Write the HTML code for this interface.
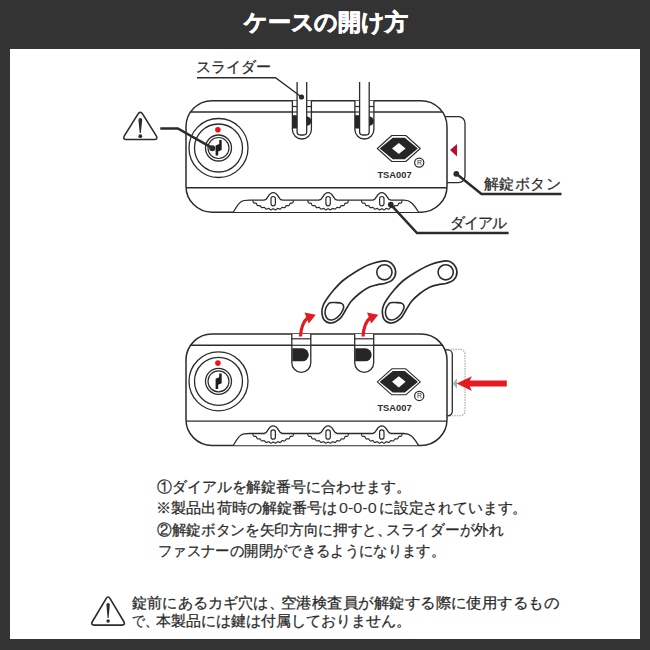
<!DOCTYPE html>
<html><head><meta charset="utf-8"><style>
html,body{margin:0;padding:0;}
body{width:650px;height:650px;background:#333333;position:relative;overflow:hidden;font-family:"Liberation Sans",sans-serif;}
svg{position:absolute;left:0;top:0;}
.t{position:absolute;white-space:nowrap;color:#2a2a2a;line-height:1;-webkit-text-stroke:0.25px #2a2a2a;}
</style></head><body>
<svg width="650" height="650" viewBox="0 0 650 650">
<rect x="10" y="49" width="630" height="590" fill="#fff"/><rect x="186" y="100.7" width="261" height="111.49999999999999" rx="26" fill="#fff" stroke="#2b2b2b" stroke-width="1.5"/><line x1="190.6" y1="112" x2="442.4" y2="112" stroke="#2b2b2b" stroke-width="1.4"/><line x1="186" y1="187.8" x2="447" y2="187.8" stroke="#2b2b2b" stroke-width="1.4"/><path d="M233.4,212 C240,200 242,200.2 250,200.2 L404,200.2 C410,200.2 413,203 418.5,212" fill="#fff" stroke="#2b2b2b" stroke-width="1.3"/><path d="M264.2,200.2 C268.2,200 267.7,192.6 273.2,192.6 C278.7,192.6 278.2,200 282.2,200.2 L282.2,201.5 L264.2,201.5 Z" fill="#fff" stroke="none"/><path d="M264.2,200.2 C268.2,200 267.7,192.6 273.2,192.6 C278.7,192.6 278.2,200 282.2,200.2" fill="none" stroke="#2b2b2b" stroke-width="1.3"/><path d="M252.70,200.40 L252.84,200.58 L252.95,200.79 L253.04,201.04 L253.10,201.31 L253.15,201.59 L253.21,201.87 L253.29,202.14 L253.38,202.39 L253.51,202.60 L253.67,202.77 L253.87,202.90 L254.10,202.99 L254.36,203.04 L254.64,203.07 L254.92,203.08 L255.21,203.09 L255.49,203.10 L255.74,203.14 L255.97,203.21 L256.17,203.32 L256.34,203.48 L256.48,203.67 L256.60,203.90 L256.71,204.16 L256.81,204.43 L256.91,204.70 L257.02,204.95 L257.15,205.18 L257.31,205.37 L257.50,205.52 L257.71,205.62 L257.96,205.67 L258.22,205.68 L258.50,205.66 L258.79,205.63 L259.07,205.59 L259.34,205.56 L259.60,205.56 L259.84,205.60 L260.06,205.68 L260.25,205.80 L260.42,205.97 L260.57,206.18 L260.71,206.42 L260.85,206.67 L260.99,206.92 L261.15,207.15 L261.31,207.36 L261.50,207.52 L261.71,207.64 L261.93,207.70 L262.18,207.71 L262.44,207.69 L262.72,207.62 L262.99,207.55 L263.27,207.46 L263.54,207.40 L263.79,207.35 L264.03,207.35 L264.26,207.40 L264.47,207.49 L264.66,207.63 L264.84,207.82 L265.02,208.03 L265.20,208.25 L265.38,208.48 L265.56,208.69 L265.76,208.86 L265.97,209.00 L266.19,209.08 L266.43,209.11 L266.67,209.08 L266.93,209.01 L267.19,208.91 L267.45,208.79 L267.71,208.67 L267.96,208.56 L268.21,208.48 L268.45,208.44 L268.67,208.45 L268.89,208.51 L269.11,208.62 L269.32,208.77 L269.53,208.95 L269.74,209.15 L269.95,209.34 L270.16,209.52 L270.38,209.66 L270.61,209.76 L270.84,209.81 L271.08,209.80 L271.32,209.74 L271.56,209.63 L271.80,209.49 L272.04,209.33 L272.28,209.17 L272.51,209.02 L272.74,208.90 L272.97,208.83 L273.20,208.80 L273.43,208.83 L273.66,208.90 L273.89,209.02 L274.12,209.17 L274.36,209.33 L274.60,209.49 L274.84,209.63 L275.08,209.74 L275.32,209.80 L275.56,209.81 L275.79,209.76 L276.02,209.66 L276.24,209.52 L276.45,209.34 L276.66,209.15 L276.87,208.95 L277.08,208.77 L277.29,208.62 L277.51,208.51 L277.73,208.45 L277.95,208.44 L278.19,208.48 L278.44,208.56 L278.69,208.67 L278.95,208.79 L279.21,208.91 L279.47,209.01 L279.73,209.08 L279.97,209.11 L280.21,209.08 L280.43,209.00 L280.64,208.86 L280.84,208.69 L281.02,208.48 L281.20,208.25 L281.38,208.03 L281.56,207.82 L281.74,207.63 L281.93,207.49 L282.14,207.40 L282.37,207.35 L282.61,207.35 L282.86,207.40 L283.13,207.46 L283.41,207.55 L283.68,207.62 L283.96,207.69 L284.22,207.71 L284.47,207.70 L284.69,207.64 L284.90,207.52 L285.09,207.36 L285.25,207.15 L285.41,206.92 L285.55,206.67 L285.69,206.42 L285.83,206.18 L285.98,205.97 L286.15,205.80 L286.34,205.68 L286.56,205.60 L286.80,205.56 L287.06,205.56 L287.33,205.59 L287.61,205.63 L287.90,205.66 L288.18,205.68 L288.44,205.67 L288.69,205.62 L288.90,205.52 L289.09,205.37 L289.25,205.18 L289.38,204.95 L289.49,204.70 L289.59,204.43 L289.69,204.16 L289.80,203.90 L289.92,203.67 L290.06,203.48 L290.23,203.32 L290.43,203.21 L290.66,203.14 L290.91,203.10 L291.19,203.09 L291.48,203.08 L291.76,203.07 L292.04,203.04 L292.30,202.99 L292.53,202.90 L292.73,202.77 L292.89,202.60 L293.02,202.39 L293.11,202.14 L293.19,201.87 L293.25,201.59 L293.30,201.31 L293.36,201.04 L293.45,200.79 L293.56,200.58 L293.70,200.40" fill="none" stroke="#2b2b2b" stroke-width="1.2"/><rect x="271.0" y="196.5" width="4.4" height="9.3" rx="2.2" fill="none" stroke="#2b2b2b" stroke-width="1.2"/><path d="M319.1,200.2 C323.1,200 322.6,192.6 328.1,192.6 C333.6,192.6 333.1,200 337.1,200.2 L337.1,201.5 L319.1,201.5 Z" fill="#fff" stroke="none"/><path d="M319.1,200.2 C323.1,200 322.6,192.6 328.1,192.6 C333.6,192.6 333.1,200 337.1,200.2" fill="none" stroke="#2b2b2b" stroke-width="1.3"/><path d="M307.60,200.40 L307.74,200.58 L307.85,200.79 L307.94,201.04 L308.00,201.31 L308.05,201.59 L308.11,201.87 L308.19,202.14 L308.28,202.39 L308.41,202.60 L308.57,202.77 L308.77,202.90 L309.00,202.99 L309.26,203.04 L309.54,203.07 L309.82,203.08 L310.11,203.09 L310.39,203.10 L310.64,203.14 L310.87,203.21 L311.07,203.32 L311.24,203.48 L311.38,203.67 L311.50,203.90 L311.61,204.16 L311.71,204.43 L311.81,204.70 L311.92,204.95 L312.05,205.18 L312.21,205.37 L312.40,205.52 L312.61,205.62 L312.86,205.67 L313.12,205.68 L313.40,205.66 L313.69,205.63 L313.97,205.59 L314.24,205.56 L314.50,205.56 L314.74,205.60 L314.96,205.68 L315.15,205.80 L315.32,205.97 L315.47,206.18 L315.61,206.42 L315.75,206.67 L315.89,206.92 L316.05,207.15 L316.21,207.36 L316.40,207.52 L316.61,207.64 L316.83,207.70 L317.08,207.71 L317.34,207.69 L317.62,207.62 L317.89,207.55 L318.17,207.46 L318.44,207.40 L318.69,207.35 L318.93,207.35 L319.16,207.40 L319.37,207.49 L319.56,207.63 L319.74,207.82 L319.92,208.03 L320.10,208.25 L320.28,208.48 L320.46,208.69 L320.66,208.86 L320.87,209.00 L321.09,209.08 L321.33,209.11 L321.57,209.08 L321.83,209.01 L322.09,208.91 L322.35,208.79 L322.61,208.67 L322.86,208.56 L323.11,208.48 L323.35,208.44 L323.57,208.45 L323.79,208.51 L324.01,208.62 L324.22,208.77 L324.43,208.95 L324.64,209.15 L324.85,209.34 L325.06,209.52 L325.28,209.66 L325.51,209.76 L325.74,209.81 L325.98,209.80 L326.22,209.74 L326.46,209.63 L326.70,209.49 L326.94,209.33 L327.18,209.17 L327.41,209.02 L327.64,208.90 L327.87,208.83 L328.10,208.80 L328.33,208.83 L328.56,208.90 L328.79,209.02 L329.02,209.17 L329.26,209.33 L329.50,209.49 L329.74,209.63 L329.98,209.74 L330.22,209.80 L330.46,209.81 L330.69,209.76 L330.92,209.66 L331.14,209.52 L331.35,209.34 L331.56,209.15 L331.77,208.95 L331.98,208.77 L332.19,208.62 L332.41,208.51 L332.63,208.45 L332.85,208.44 L333.09,208.48 L333.34,208.56 L333.59,208.67 L333.85,208.79 L334.11,208.91 L334.37,209.01 L334.63,209.08 L334.87,209.11 L335.11,209.08 L335.33,209.00 L335.54,208.86 L335.74,208.69 L335.92,208.48 L336.10,208.25 L336.28,208.03 L336.46,207.82 L336.64,207.63 L336.83,207.49 L337.04,207.40 L337.27,207.35 L337.51,207.35 L337.76,207.40 L338.03,207.46 L338.31,207.55 L338.58,207.62 L338.86,207.69 L339.12,207.71 L339.37,207.70 L339.59,207.64 L339.80,207.52 L339.99,207.36 L340.15,207.15 L340.31,206.92 L340.45,206.67 L340.59,206.42 L340.73,206.18 L340.88,205.97 L341.05,205.80 L341.24,205.68 L341.46,205.60 L341.70,205.56 L341.96,205.56 L342.23,205.59 L342.51,205.63 L342.80,205.66 L343.08,205.68 L343.34,205.67 L343.59,205.62 L343.80,205.52 L343.99,205.37 L344.15,205.18 L344.28,204.95 L344.39,204.70 L344.49,204.43 L344.59,204.16 L344.70,203.90 L344.82,203.67 L344.96,203.48 L345.13,203.32 L345.33,203.21 L345.56,203.14 L345.81,203.10 L346.09,203.09 L346.38,203.08 L346.66,203.07 L346.94,203.04 L347.20,202.99 L347.43,202.90 L347.63,202.77 L347.79,202.60 L347.92,202.39 L348.01,202.14 L348.09,201.87 L348.15,201.59 L348.20,201.31 L348.26,201.04 L348.35,200.79 L348.46,200.58 L348.60,200.40" fill="none" stroke="#2b2b2b" stroke-width="1.2"/><rect x="325.90000000000003" y="196.5" width="4.4" height="9.3" rx="2.2" fill="none" stroke="#2b2b2b" stroke-width="1.2"/><path d="M372.8,200.2 C376.8,200 376.3,192.6 381.8,192.6 C387.3,192.6 386.8,200 390.8,200.2 L390.8,201.5 L372.8,201.5 Z" fill="#fff" stroke="none"/><path d="M372.8,200.2 C376.8,200 376.3,192.6 381.8,192.6 C387.3,192.6 386.8,200 390.8,200.2" fill="none" stroke="#2b2b2b" stroke-width="1.3"/><path d="M361.30,200.40 L361.44,200.58 L361.55,200.79 L361.64,201.04 L361.70,201.31 L361.75,201.59 L361.81,201.87 L361.89,202.14 L361.98,202.39 L362.11,202.60 L362.27,202.77 L362.47,202.90 L362.70,202.99 L362.96,203.04 L363.24,203.07 L363.52,203.08 L363.81,203.09 L364.09,203.10 L364.34,203.14 L364.57,203.21 L364.77,203.32 L364.94,203.48 L365.08,203.67 L365.20,203.90 L365.31,204.16 L365.41,204.43 L365.51,204.70 L365.62,204.95 L365.75,205.18 L365.91,205.37 L366.10,205.52 L366.31,205.62 L366.56,205.67 L366.82,205.68 L367.10,205.66 L367.39,205.63 L367.67,205.59 L367.94,205.56 L368.20,205.56 L368.44,205.60 L368.66,205.68 L368.85,205.80 L369.02,205.97 L369.17,206.18 L369.31,206.42 L369.45,206.67 L369.59,206.92 L369.75,207.15 L369.91,207.36 L370.10,207.52 L370.31,207.64 L370.53,207.70 L370.78,207.71 L371.04,207.69 L371.32,207.62 L371.59,207.55 L371.87,207.46 L372.14,207.40 L372.39,207.35 L372.63,207.35 L372.86,207.40 L373.07,207.49 L373.26,207.63 L373.44,207.82 L373.62,208.03 L373.80,208.25 L373.98,208.48 L374.16,208.69 L374.36,208.86 L374.57,209.00 L374.79,209.08 L375.03,209.11 L375.27,209.08 L375.53,209.01 L375.79,208.91 L376.05,208.79 L376.31,208.67 L376.56,208.56 L376.81,208.48 L377.05,208.44 L377.27,208.45 L377.49,208.51 L377.71,208.62 L377.92,208.77 L378.13,208.95 L378.34,209.15 L378.55,209.34 L378.76,209.52 L378.98,209.66 L379.21,209.76 L379.44,209.81 L379.68,209.80 L379.92,209.74 L380.16,209.63 L380.40,209.49 L380.64,209.33 L380.88,209.17 L381.11,209.02 L381.34,208.90 L381.57,208.83 L381.80,208.80 L382.03,208.83 L382.26,208.90 L382.49,209.02 L382.72,209.17 L382.96,209.33 L383.20,209.49 L383.44,209.63 L383.68,209.74 L383.92,209.80 L384.16,209.81 L384.39,209.76 L384.62,209.66 L384.84,209.52 L385.05,209.34 L385.26,209.15 L385.47,208.95 L385.68,208.77 L385.89,208.62 L386.11,208.51 L386.33,208.45 L386.55,208.44 L386.79,208.48 L387.04,208.56 L387.29,208.67 L387.55,208.79 L387.81,208.91 L388.07,209.01 L388.33,209.08 L388.57,209.11 L388.81,209.08 L389.03,209.00 L389.24,208.86 L389.44,208.69 L389.62,208.48 L389.80,208.25 L389.98,208.03 L390.16,207.82 L390.34,207.63 L390.53,207.49 L390.74,207.40 L390.97,207.35 L391.21,207.35 L391.46,207.40 L391.73,207.46 L392.01,207.55 L392.28,207.62 L392.56,207.69 L392.82,207.71 L393.07,207.70 L393.29,207.64 L393.50,207.52 L393.69,207.36 L393.85,207.15 L394.01,206.92 L394.15,206.67 L394.29,206.42 L394.43,206.18 L394.58,205.97 L394.75,205.80 L394.94,205.68 L395.16,205.60 L395.40,205.56 L395.66,205.56 L395.93,205.59 L396.21,205.63 L396.50,205.66 L396.78,205.68 L397.04,205.67 L397.29,205.62 L397.50,205.52 L397.69,205.37 L397.85,205.18 L397.98,204.95 L398.09,204.70 L398.19,204.43 L398.29,204.16 L398.40,203.90 L398.52,203.67 L398.66,203.48 L398.83,203.32 L399.03,203.21 L399.26,203.14 L399.51,203.10 L399.79,203.09 L400.08,203.08 L400.36,203.07 L400.64,203.04 L400.90,202.99 L401.13,202.90 L401.33,202.77 L401.49,202.60 L401.62,202.39 L401.71,202.14 L401.79,201.87 L401.85,201.59 L401.90,201.31 L401.96,201.04 L402.05,200.79 L402.16,200.58 L402.30,200.40" fill="none" stroke="#2b2b2b" stroke-width="1.2"/><rect x="379.6" y="196.5" width="4.4" height="9.3" rx="2.2" fill="none" stroke="#2b2b2b" stroke-width="1.2"/><circle cx="218.5" cy="148" r="29.5" fill="#fff" stroke="#2b2b2b" stroke-width="1.3"/><circle cx="218.5" cy="148" r="24" fill="#fff" stroke="#2b2b2b" stroke-width="1.3"/><circle cx="218.5" cy="148" r="13" fill="#fff" stroke="#2b2b2b" stroke-width="1.3"/><circle cx="218.5" cy="148" r="10.5" fill="#fff" stroke="#2b2b2b" stroke-width="1.2"/><circle cx="217.9" cy="129.8" r="2.8" fill="#e8141c"/><path d="M219.2,140.1 L221.7,140.1 L221.7,150 L218.2,151.5 L218.2,155.6 L215.6,155.6 L215.6,145.4 L219.2,144 Z" fill="#1e1e1e"/><path d="M377.3,148.5 L391.8,135.5 L405.8,135.5 L420.3,148.5 L405.8,161.5 L391.8,161.5 Z" fill="#fff" stroke="#2b2b2b" stroke-width="1.1" stroke-linejoin="round"/><path d="M380.8,148.5 L393.0,138.6 L404.6,138.6 L416.8,148.5 L404.6,158.4 L393.0,158.4 Z" fill="#262626" stroke="#262626" stroke-width="1.6" stroke-linejoin="round"/><path d="M392.0,148.5 L398.8,142.9 L405.6,148.5 L398.8,154.1 Z" fill="#fff"/><circle cx="419.2" cy="162.6" r="4.6" fill="#fff" stroke="#2b2b2b" stroke-width="1.25"/><text x="419.40000000000003" y="165.1" font-size="6.8" text-anchor="middle" fill="#2b2b2b" font-family="Liberation Sans, sans-serif">R</text><text x="377.40000000000003" y="177.9" font-size="9.6" font-weight="bold" fill="#2e2e2e" font-family="Liberation Sans, sans-serif" textLength="34.2" lengthAdjust="spacingAndGlyphs">TSA007</text><path d="M292.4,100.7 L292.4,129.5 A9.5,9.5 0 0 0 311.4,129.5 L311.4,100.7" fill="#fff" stroke="#2b2b2b" stroke-width="1.3"/><line x1="292.4" y1="106.5" x2="311.4" y2="106.5" stroke="#2b2b2b" stroke-width="1.2"/><line x1="292.4" y1="112" x2="311.4" y2="112" stroke="#2b2b2b" stroke-width="1.2"/><rect x="292.4" y="115.2" width="4.7" height="13.3" fill="#262626"/><path d="M306.5,116.4 A4.8,4.8 0 0 1 306.5,126 Z" fill="#262626"/><path d="M297.09999999999997,82 L297.09999999999997,131.8 A3.2,3.2 0 0 0 300.29999999999995,135 L303.5,135 A3.2,3.2 0 0 0 306.7,131.8 L306.7,82" fill="#fff" stroke="#2b2b2b" stroke-width="1.3"/><path d="M354.9,100.7 L354.9,129.5 A9.5,9.5 0 0 0 373.9,129.5 L373.9,100.7" fill="#fff" stroke="#2b2b2b" stroke-width="1.3"/><line x1="354.9" y1="106.5" x2="373.9" y2="106.5" stroke="#2b2b2b" stroke-width="1.2"/><line x1="354.9" y1="112" x2="373.9" y2="112" stroke="#2b2b2b" stroke-width="1.2"/><rect x="354.9" y="115.2" width="4.7" height="13.3" fill="#262626"/><path d="M369.0,116.4 A4.8,4.8 0 0 1 369.0,126 Z" fill="#262626"/><path d="M359.59999999999997,82 L359.59999999999997,131.8 A3.2,3.2 0 0 0 362.79999999999995,135 L366.0,135 A3.2,3.2 0 0 0 369.2,131.8 L369.2,82" fill="#fff" stroke="#2b2b2b" stroke-width="1.3"/><path d="M444.9,116.6 L458.5,116.6 A6.5,6.5 0 0 1 465,123.1 L465,176.2 A6.5,6.5 0 0 1 458.5,182.7 L447,182.7" fill="none" stroke="#2b2b2b" stroke-width="1.3"/><path d="M450,150 L457,144 L457,156.5 Z" fill="#b3122b"/><rect x="186" y="334.0" width="261" height="111.5" rx="26" fill="#fff" stroke="#2b2b2b" stroke-width="1.5"/><line x1="190.6" y1="345.3" x2="442.4" y2="345.3" stroke="#2b2b2b" stroke-width="1.4"/><line x1="186" y1="421.1" x2="447" y2="421.1" stroke="#2b2b2b" stroke-width="1.4"/><path d="M233.4,445.3 C240,433.3 242,433.5 250,433.5 L404,433.5 C410,433.5 413,436.3 418.5,445.3" fill="#fff" stroke="#2b2b2b" stroke-width="1.3"/><path d="M264.2,433.5 C268.2,433.3 267.7,425.9 273.2,425.9 C278.7,425.9 278.2,433.3 282.2,433.5 L282.2,434.8 L264.2,434.8 Z" fill="#fff" stroke="none"/><path d="M264.2,433.5 C268.2,433.3 267.7,425.9 273.2,425.9 C278.7,425.9 278.2,433.3 282.2,433.5" fill="none" stroke="#2b2b2b" stroke-width="1.3"/><path d="M252.70,433.70 L252.84,433.88 L252.95,434.09 L253.04,434.34 L253.10,434.61 L253.15,434.89 L253.21,435.17 L253.29,435.44 L253.38,435.69 L253.51,435.90 L253.67,436.07 L253.87,436.20 L254.10,436.29 L254.36,436.34 L254.64,436.37 L254.92,436.38 L255.21,436.39 L255.49,436.40 L255.74,436.44 L255.97,436.51 L256.17,436.62 L256.34,436.78 L256.48,436.97 L256.60,437.20 L256.71,437.46 L256.81,437.73 L256.91,438.00 L257.02,438.25 L257.15,438.48 L257.31,438.67 L257.50,438.82 L257.71,438.92 L257.96,438.97 L258.22,438.98 L258.50,438.96 L258.79,438.93 L259.07,438.89 L259.34,438.86 L259.60,438.86 L259.84,438.90 L260.06,438.98 L260.25,439.10 L260.42,439.27 L260.57,439.48 L260.71,439.72 L260.85,439.97 L260.99,440.22 L261.15,440.45 L261.31,440.66 L261.50,440.82 L261.71,440.94 L261.93,441.00 L262.18,441.01 L262.44,440.99 L262.72,440.92 L262.99,440.85 L263.27,440.76 L263.54,440.70 L263.79,440.65 L264.03,440.65 L264.26,440.70 L264.47,440.79 L264.66,440.93 L264.84,441.12 L265.02,441.33 L265.20,441.55 L265.38,441.78 L265.56,441.99 L265.76,442.16 L265.97,442.30 L266.19,442.38 L266.43,442.41 L266.67,442.38 L266.93,442.31 L267.19,442.21 L267.45,442.09 L267.71,441.97 L267.96,441.86 L268.21,441.78 L268.45,441.74 L268.67,441.75 L268.89,441.81 L269.11,441.92 L269.32,442.07 L269.53,442.25 L269.74,442.45 L269.95,442.64 L270.16,442.82 L270.38,442.96 L270.61,443.06 L270.84,443.11 L271.08,443.10 L271.32,443.04 L271.56,442.93 L271.80,442.79 L272.04,442.63 L272.28,442.47 L272.51,442.32 L272.74,442.20 L272.97,442.13 L273.20,442.10 L273.43,442.13 L273.66,442.20 L273.89,442.32 L274.12,442.47 L274.36,442.63 L274.60,442.79 L274.84,442.93 L275.08,443.04 L275.32,443.10 L275.56,443.11 L275.79,443.06 L276.02,442.96 L276.24,442.82 L276.45,442.64 L276.66,442.45 L276.87,442.25 L277.08,442.07 L277.29,441.92 L277.51,441.81 L277.73,441.75 L277.95,441.74 L278.19,441.78 L278.44,441.86 L278.69,441.97 L278.95,442.09 L279.21,442.21 L279.47,442.31 L279.73,442.38 L279.97,442.41 L280.21,442.38 L280.43,442.30 L280.64,442.16 L280.84,441.99 L281.02,441.78 L281.20,441.55 L281.38,441.33 L281.56,441.12 L281.74,440.93 L281.93,440.79 L282.14,440.70 L282.37,440.65 L282.61,440.65 L282.86,440.70 L283.13,440.76 L283.41,440.85 L283.68,440.92 L283.96,440.99 L284.22,441.01 L284.47,441.00 L284.69,440.94 L284.90,440.82 L285.09,440.66 L285.25,440.45 L285.41,440.22 L285.55,439.97 L285.69,439.72 L285.83,439.48 L285.98,439.27 L286.15,439.10 L286.34,438.98 L286.56,438.90 L286.80,438.86 L287.06,438.86 L287.33,438.89 L287.61,438.93 L287.90,438.96 L288.18,438.98 L288.44,438.97 L288.69,438.92 L288.90,438.82 L289.09,438.67 L289.25,438.48 L289.38,438.25 L289.49,438.00 L289.59,437.73 L289.69,437.46 L289.80,437.20 L289.92,436.97 L290.06,436.78 L290.23,436.62 L290.43,436.51 L290.66,436.44 L290.91,436.40 L291.19,436.39 L291.48,436.38 L291.76,436.37 L292.04,436.34 L292.30,436.29 L292.53,436.20 L292.73,436.07 L292.89,435.90 L293.02,435.69 L293.11,435.44 L293.19,435.17 L293.25,434.89 L293.30,434.61 L293.36,434.34 L293.45,434.09 L293.56,433.88 L293.70,433.70" fill="none" stroke="#2b2b2b" stroke-width="1.2"/><rect x="271.0" y="429.8" width="4.4" height="9.3" rx="2.2" fill="none" stroke="#2b2b2b" stroke-width="1.2"/><path d="M319.1,433.5 C323.1,433.3 322.6,425.9 328.1,425.9 C333.6,425.9 333.1,433.3 337.1,433.5 L337.1,434.8 L319.1,434.8 Z" fill="#fff" stroke="none"/><path d="M319.1,433.5 C323.1,433.3 322.6,425.9 328.1,425.9 C333.6,425.9 333.1,433.3 337.1,433.5" fill="none" stroke="#2b2b2b" stroke-width="1.3"/><path d="M307.60,433.70 L307.74,433.88 L307.85,434.09 L307.94,434.34 L308.00,434.61 L308.05,434.89 L308.11,435.17 L308.19,435.44 L308.28,435.69 L308.41,435.90 L308.57,436.07 L308.77,436.20 L309.00,436.29 L309.26,436.34 L309.54,436.37 L309.82,436.38 L310.11,436.39 L310.39,436.40 L310.64,436.44 L310.87,436.51 L311.07,436.62 L311.24,436.78 L311.38,436.97 L311.50,437.20 L311.61,437.46 L311.71,437.73 L311.81,438.00 L311.92,438.25 L312.05,438.48 L312.21,438.67 L312.40,438.82 L312.61,438.92 L312.86,438.97 L313.12,438.98 L313.40,438.96 L313.69,438.93 L313.97,438.89 L314.24,438.86 L314.50,438.86 L314.74,438.90 L314.96,438.98 L315.15,439.10 L315.32,439.27 L315.47,439.48 L315.61,439.72 L315.75,439.97 L315.89,440.22 L316.05,440.45 L316.21,440.66 L316.40,440.82 L316.61,440.94 L316.83,441.00 L317.08,441.01 L317.34,440.99 L317.62,440.92 L317.89,440.85 L318.17,440.76 L318.44,440.70 L318.69,440.65 L318.93,440.65 L319.16,440.70 L319.37,440.79 L319.56,440.93 L319.74,441.12 L319.92,441.33 L320.10,441.55 L320.28,441.78 L320.46,441.99 L320.66,442.16 L320.87,442.30 L321.09,442.38 L321.33,442.41 L321.57,442.38 L321.83,442.31 L322.09,442.21 L322.35,442.09 L322.61,441.97 L322.86,441.86 L323.11,441.78 L323.35,441.74 L323.57,441.75 L323.79,441.81 L324.01,441.92 L324.22,442.07 L324.43,442.25 L324.64,442.45 L324.85,442.64 L325.06,442.82 L325.28,442.96 L325.51,443.06 L325.74,443.11 L325.98,443.10 L326.22,443.04 L326.46,442.93 L326.70,442.79 L326.94,442.63 L327.18,442.47 L327.41,442.32 L327.64,442.20 L327.87,442.13 L328.10,442.10 L328.33,442.13 L328.56,442.20 L328.79,442.32 L329.02,442.47 L329.26,442.63 L329.50,442.79 L329.74,442.93 L329.98,443.04 L330.22,443.10 L330.46,443.11 L330.69,443.06 L330.92,442.96 L331.14,442.82 L331.35,442.64 L331.56,442.45 L331.77,442.25 L331.98,442.07 L332.19,441.92 L332.41,441.81 L332.63,441.75 L332.85,441.74 L333.09,441.78 L333.34,441.86 L333.59,441.97 L333.85,442.09 L334.11,442.21 L334.37,442.31 L334.63,442.38 L334.87,442.41 L335.11,442.38 L335.33,442.30 L335.54,442.16 L335.74,441.99 L335.92,441.78 L336.10,441.55 L336.28,441.33 L336.46,441.12 L336.64,440.93 L336.83,440.79 L337.04,440.70 L337.27,440.65 L337.51,440.65 L337.76,440.70 L338.03,440.76 L338.31,440.85 L338.58,440.92 L338.86,440.99 L339.12,441.01 L339.37,441.00 L339.59,440.94 L339.80,440.82 L339.99,440.66 L340.15,440.45 L340.31,440.22 L340.45,439.97 L340.59,439.72 L340.73,439.48 L340.88,439.27 L341.05,439.10 L341.24,438.98 L341.46,438.90 L341.70,438.86 L341.96,438.86 L342.23,438.89 L342.51,438.93 L342.80,438.96 L343.08,438.98 L343.34,438.97 L343.59,438.92 L343.80,438.82 L343.99,438.67 L344.15,438.48 L344.28,438.25 L344.39,438.00 L344.49,437.73 L344.59,437.46 L344.70,437.20 L344.82,436.97 L344.96,436.78 L345.13,436.62 L345.33,436.51 L345.56,436.44 L345.81,436.40 L346.09,436.39 L346.38,436.38 L346.66,436.37 L346.94,436.34 L347.20,436.29 L347.43,436.20 L347.63,436.07 L347.79,435.90 L347.92,435.69 L348.01,435.44 L348.09,435.17 L348.15,434.89 L348.20,434.61 L348.26,434.34 L348.35,434.09 L348.46,433.88 L348.60,433.70" fill="none" stroke="#2b2b2b" stroke-width="1.2"/><rect x="325.90000000000003" y="429.8" width="4.4" height="9.3" rx="2.2" fill="none" stroke="#2b2b2b" stroke-width="1.2"/><path d="M372.8,433.5 C376.8,433.3 376.3,425.9 381.8,425.9 C387.3,425.9 386.8,433.3 390.8,433.5 L390.8,434.8 L372.8,434.8 Z" fill="#fff" stroke="none"/><path d="M372.8,433.5 C376.8,433.3 376.3,425.9 381.8,425.9 C387.3,425.9 386.8,433.3 390.8,433.5" fill="none" stroke="#2b2b2b" stroke-width="1.3"/><path d="M361.30,433.70 L361.44,433.88 L361.55,434.09 L361.64,434.34 L361.70,434.61 L361.75,434.89 L361.81,435.17 L361.89,435.44 L361.98,435.69 L362.11,435.90 L362.27,436.07 L362.47,436.20 L362.70,436.29 L362.96,436.34 L363.24,436.37 L363.52,436.38 L363.81,436.39 L364.09,436.40 L364.34,436.44 L364.57,436.51 L364.77,436.62 L364.94,436.78 L365.08,436.97 L365.20,437.20 L365.31,437.46 L365.41,437.73 L365.51,438.00 L365.62,438.25 L365.75,438.48 L365.91,438.67 L366.10,438.82 L366.31,438.92 L366.56,438.97 L366.82,438.98 L367.10,438.96 L367.39,438.93 L367.67,438.89 L367.94,438.86 L368.20,438.86 L368.44,438.90 L368.66,438.98 L368.85,439.10 L369.02,439.27 L369.17,439.48 L369.31,439.72 L369.45,439.97 L369.59,440.22 L369.75,440.45 L369.91,440.66 L370.10,440.82 L370.31,440.94 L370.53,441.00 L370.78,441.01 L371.04,440.99 L371.32,440.92 L371.59,440.85 L371.87,440.76 L372.14,440.70 L372.39,440.65 L372.63,440.65 L372.86,440.70 L373.07,440.79 L373.26,440.93 L373.44,441.12 L373.62,441.33 L373.80,441.55 L373.98,441.78 L374.16,441.99 L374.36,442.16 L374.57,442.30 L374.79,442.38 L375.03,442.41 L375.27,442.38 L375.53,442.31 L375.79,442.21 L376.05,442.09 L376.31,441.97 L376.56,441.86 L376.81,441.78 L377.05,441.74 L377.27,441.75 L377.49,441.81 L377.71,441.92 L377.92,442.07 L378.13,442.25 L378.34,442.45 L378.55,442.64 L378.76,442.82 L378.98,442.96 L379.21,443.06 L379.44,443.11 L379.68,443.10 L379.92,443.04 L380.16,442.93 L380.40,442.79 L380.64,442.63 L380.88,442.47 L381.11,442.32 L381.34,442.20 L381.57,442.13 L381.80,442.10 L382.03,442.13 L382.26,442.20 L382.49,442.32 L382.72,442.47 L382.96,442.63 L383.20,442.79 L383.44,442.93 L383.68,443.04 L383.92,443.10 L384.16,443.11 L384.39,443.06 L384.62,442.96 L384.84,442.82 L385.05,442.64 L385.26,442.45 L385.47,442.25 L385.68,442.07 L385.89,441.92 L386.11,441.81 L386.33,441.75 L386.55,441.74 L386.79,441.78 L387.04,441.86 L387.29,441.97 L387.55,442.09 L387.81,442.21 L388.07,442.31 L388.33,442.38 L388.57,442.41 L388.81,442.38 L389.03,442.30 L389.24,442.16 L389.44,441.99 L389.62,441.78 L389.80,441.55 L389.98,441.33 L390.16,441.12 L390.34,440.93 L390.53,440.79 L390.74,440.70 L390.97,440.65 L391.21,440.65 L391.46,440.70 L391.73,440.76 L392.01,440.85 L392.28,440.92 L392.56,440.99 L392.82,441.01 L393.07,441.00 L393.29,440.94 L393.50,440.82 L393.69,440.66 L393.85,440.45 L394.01,440.22 L394.15,439.97 L394.29,439.72 L394.43,439.48 L394.58,439.27 L394.75,439.10 L394.94,438.98 L395.16,438.90 L395.40,438.86 L395.66,438.86 L395.93,438.89 L396.21,438.93 L396.50,438.96 L396.78,438.98 L397.04,438.97 L397.29,438.92 L397.50,438.82 L397.69,438.67 L397.85,438.48 L397.98,438.25 L398.09,438.00 L398.19,437.73 L398.29,437.46 L398.40,437.20 L398.52,436.97 L398.66,436.78 L398.83,436.62 L399.03,436.51 L399.26,436.44 L399.51,436.40 L399.79,436.39 L400.08,436.38 L400.36,436.37 L400.64,436.34 L400.90,436.29 L401.13,436.20 L401.33,436.07 L401.49,435.90 L401.62,435.69 L401.71,435.44 L401.79,435.17 L401.85,434.89 L401.90,434.61 L401.96,434.34 L402.05,434.09 L402.16,433.88 L402.30,433.70" fill="none" stroke="#2b2b2b" stroke-width="1.2"/><rect x="379.6" y="429.8" width="4.4" height="9.3" rx="2.2" fill="none" stroke="#2b2b2b" stroke-width="1.2"/><circle cx="218.5" cy="381.3" r="29.5" fill="#fff" stroke="#2b2b2b" stroke-width="1.3"/><circle cx="218.5" cy="381.3" r="24" fill="#fff" stroke="#2b2b2b" stroke-width="1.3"/><circle cx="218.5" cy="381.3" r="13" fill="#fff" stroke="#2b2b2b" stroke-width="1.3"/><circle cx="218.5" cy="381.3" r="10.5" fill="#fff" stroke="#2b2b2b" stroke-width="1.2"/><circle cx="217.9" cy="363.1" r="2.8" fill="#e8141c"/><path d="M219.2,373.40000000000003 L221.7,373.40000000000003 L221.7,383.3 L218.2,384.8 L218.2,388.90000000000003 L215.6,388.90000000000003 L215.6,378.7 L219.2,377.3 Z" fill="#1e1e1e"/><path d="M377.3,381.8 L391.8,368.8 L405.8,368.8 L420.3,381.8 L405.8,394.8 L391.8,394.8 Z" fill="#fff" stroke="#2b2b2b" stroke-width="1.1" stroke-linejoin="round"/><path d="M380.8,381.8 L393.0,371.90000000000003 L404.6,371.90000000000003 L416.8,381.8 L404.6,391.7 L393.0,391.7 Z" fill="#262626" stroke="#262626" stroke-width="1.6" stroke-linejoin="round"/><path d="M392.0,381.8 L398.8,376.2 L405.6,381.8 L398.8,387.40000000000003 Z" fill="#fff"/><circle cx="419.2" cy="395.90000000000003" r="4.6" fill="#fff" stroke="#2b2b2b" stroke-width="1.25"/><text x="419.40000000000003" y="398.40000000000003" font-size="6.8" text-anchor="middle" fill="#2b2b2b" font-family="Liberation Sans, sans-serif">R</text><text x="377.40000000000003" y="411.20000000000005" font-size="9.6" font-weight="bold" fill="#2e2e2e" font-family="Liberation Sans, sans-serif" textLength="34.2" lengthAdjust="spacingAndGlyphs">TSA007</text><path d="M291.8,334.0 L291.8,362.8 A9.5,9.5 0 0 0 310.8,362.8 L310.8,334.0" fill="#fff" stroke="#2b2b2b" stroke-width="1.3"/><line x1="291.8" y1="338.8" x2="310.8" y2="338.8" stroke="#2b2b2b" stroke-width="1.2"/><line x1="291.8" y1="345.3" x2="310.8" y2="345.3" stroke="#2b2b2b" stroke-width="1.2"/><path d="M292.3,348.3 L302.3,348.3 A6.5,6.5 0 0 1 302.3,361.3 L292.3,361.3 Z" fill="#262626"/><path d="M354.7,334.0 L354.7,362.8 A9.5,9.5 0 0 0 373.7,362.8 L373.7,334.0" fill="#fff" stroke="#2b2b2b" stroke-width="1.3"/><line x1="354.7" y1="338.8" x2="373.7" y2="338.8" stroke="#2b2b2b" stroke-width="1.2"/><line x1="354.7" y1="345.3" x2="373.7" y2="345.3" stroke="#2b2b2b" stroke-width="1.2"/><path d="M355.2,348.3 L365.2,348.3 A6.5,6.5 0 0 1 365.2,361.3 L355.2,361.3 Z" fill="#262626"/><path d="M445,349.3 L460,349.3 A5,5 0 0 1 465,354.3 L465,410.8 A5,5 0 0 1 460,415.8 L447,415.8" fill="none" stroke="#a5a5a5" stroke-width="1.1" stroke-dasharray="1.6,1"/><path d="M444.9,349.8 L447.8,349.8 A4.5,4.5 0 0 1 452.3,354.3 L452.3,411.3 A4.5,4.5 0 0 1 447.8,415.8 L446.8,415.8" fill="none" stroke="#2b2b2b" stroke-width="1.3"/><path d="M452.6,383.5 L457,378.3 L457,388.70000000000005 Z" fill="#aab3b6"/><path d="M137.92,114.12 L124.48,135.68 Q122.10,139.50 126.60,139.50 L154.00,139.50 Q158.50,139.50 156.12,135.68 L142.68,114.12 Q140.30,110.30 137.92,114.12Z" fill="#fff" stroke="#2b2b2b" stroke-width="1.6"/><path d="M138.4,119.9 A1.9,1.9 0 0 1 142.20000000000002,119.9 L140.85000000000002,133 L139.75,133 Z" fill="#2b2b2b"/><circle cx="140.3" cy="136.2" r="1.9" fill="#2b2b2b"/><path d="M160.3,128.4 L177.8,128.4 L212.5,148.2" fill="none" stroke="#2b2b2b" stroke-width="2.5"/><circle cx="212.3" cy="148.2" r="3" fill="#2b2b2b"/><path d="M197,77.7 L275.5,77.7 L301.5,97" fill="none" stroke="#2b2b2b" stroke-width="1.4"/><circle cx="301.5" cy="97" r="2.6" fill="#2b2b2b"/><path d="M456.3,173.8 L481.5,194 L561.5,194" fill="none" stroke="#2b2b2b" stroke-width="2.5"/><circle cx="456.3" cy="173.8" r="2.9" fill="#2b2b2b"/><path d="M390.8,204.6 L417,233 L508.6,233" fill="none" stroke="#2b2b2b" stroke-width="2.5"/><circle cx="390.8" cy="204.6" r="2.9" fill="#2b2b2b"/><path d="M384.10,260.90 C387.87,260.65 389.58,261.52 391.50,263.30 C393.42,265.08 395.38,268.90 395.60,271.60 C395.82,274.30 394.48,277.57 392.80,279.50 C391.12,281.43 388.13,282.32 385.50,283.20 C382.87,284.08 379.77,284.13 377.00,284.80 C374.23,285.47 371.82,285.75 368.90,287.20 C365.98,288.65 362.45,291.15 359.50,293.50 C356.55,295.85 353.53,298.50 351.20,301.30 C348.87,304.10 347.33,307.47 345.50,310.30 C343.67,313.13 342.62,316.18 340.20,318.30 C337.78,320.42 333.70,322.75 331.00,323.00 C328.30,323.25 325.52,321.72 324.00,319.80 C322.48,317.88 322.02,313.97 321.90,311.50 C321.78,309.03 322.48,307.08 323.30,305.00 C324.12,302.92 325.07,301.50 326.80,299.00 C328.53,296.50 331.00,293.08 333.70,290.00 C336.40,286.92 339.45,283.47 343.00,280.50 C346.55,277.53 350.68,274.82 355.00,272.20 C359.32,269.58 364.05,266.68 368.90,264.80 C373.75,262.92 380.33,261.15 384.10,260.90Z" fill="#fff" stroke="#2b2b2b" stroke-width="1.7"/><circle cx="384.4" cy="272.3" r="7.6" fill="#fff" stroke="#2b2b2b" stroke-width="1.6"/><path d="M329.90,302.80 C331.43,302.20 334.05,302.50 336.00,302.60 C337.95,302.70 340.32,302.70 341.60,303.40 C342.88,304.10 343.58,305.53 343.70,306.80 C343.82,308.07 343.00,309.58 342.30,311.00 C341.60,312.42 340.63,314.03 339.50,315.30 C338.37,316.57 336.82,317.82 335.50,318.60 C334.18,319.38 332.92,319.97 331.60,320.00 C330.28,320.03 328.63,319.63 327.60,318.80 C326.57,317.97 325.80,316.38 325.40,315.00 C325.00,313.62 324.97,311.97 325.20,310.50 C325.43,309.03 326.02,307.48 326.80,306.20 C327.58,304.92 328.37,303.40 329.90,302.80Z" fill="#fff" stroke="#2b2b2b" stroke-width="1.6"/><path d="M445.40,260.90 C449.17,260.65 450.88,261.52 452.80,263.30 C454.72,265.08 456.68,268.90 456.90,271.60 C457.12,274.30 455.78,277.57 454.10,279.50 C452.42,281.43 449.53,282.32 446.80,283.20 C444.07,284.08 440.57,284.13 437.70,284.80 C434.83,285.47 432.57,285.75 429.60,287.20 C426.63,288.65 422.90,291.15 419.90,293.50 C416.90,295.85 413.93,298.50 411.60,301.30 C409.27,304.10 407.73,307.47 405.90,310.30 C404.07,313.13 403.02,316.18 400.60,318.30 C398.18,320.42 394.10,322.75 391.40,323.00 C388.70,323.25 385.92,321.72 384.40,319.80 C382.88,317.88 382.42,313.97 382.30,311.50 C382.18,309.03 382.88,307.08 383.70,305.00 C384.52,302.92 385.47,301.50 387.20,299.00 C388.93,296.50 391.40,293.08 394.10,290.00 C396.80,286.92 399.80,283.47 403.40,280.50 C407.00,277.53 411.23,274.82 415.70,272.20 C420.17,269.58 425.25,266.68 430.20,264.80 C435.15,262.92 441.63,261.15 445.40,260.90Z" fill="#fff" stroke="#2b2b2b" stroke-width="1.7"/><circle cx="445.7" cy="272.3" r="7.6" fill="#fff" stroke="#2b2b2b" stroke-width="1.6"/><path d="M390.30,302.80 C391.83,302.20 394.45,302.50 396.40,302.60 C398.35,302.70 400.72,302.70 402.00,303.40 C403.28,304.10 403.98,305.53 404.10,306.80 C404.22,308.07 403.40,309.58 402.70,311.00 C402.00,312.42 401.03,314.03 399.90,315.30 C398.77,316.57 397.22,317.82 395.90,318.60 C394.58,319.38 393.32,319.97 392.00,320.00 C390.68,320.03 389.03,319.63 388.00,318.80 C386.97,317.97 386.20,316.38 385.80,315.00 C385.40,313.62 385.37,311.97 385.60,310.50 C385.83,309.03 386.42,307.48 387.20,306.20 C387.98,304.92 388.77,303.40 390.30,302.80Z" fill="#fff" stroke="#2b2b2b" stroke-width="1.6"/><path d="M300.5,336.5 C301,328 302.5,322 308,317.5" fill="none" stroke="#e31b23" stroke-width="3.2"/><path d="M315.8,314.8 L304.5,312.4 L308.8,323.5 Z" fill="#e31b23"/><path d="M363.0,336.5 C363.5,328 365.0,322 370.5,317.5" fill="none" stroke="#e31b23" stroke-width="3.2"/><path d="M378.3,314.8 L367.0,312.4 L371.3,323.5 Z" fill="#e31b23"/><path d="M506.8,380.6 L469.8,380.6 L471.9,376.3 L456.6,383.6 L471.9,391 L469.8,386.6 L506.8,386.6 Z" fill="#e31b23"/><path d="M105.95,598.81 L92.45,621.49 Q90.30,625.10 94.50,625.10 L121.70,625.10 Q125.90,625.10 123.75,621.49 L110.25,598.81 Q108.10,595.20 105.95,598.81Z" fill="#fff" stroke="#2b2b2b" stroke-width="1.6"/><path d="M106.39999999999999,604.8000000000001 A1.7,1.7 0 0 1 109.8,604.8000000000001 L108.6,618 L107.6,618 Z" fill="#2b2b2b"/><circle cx="108.1" cy="621" r="1.7" fill="#2b2b2b"/>
</svg>
<div class="t" style="left:244px;top:10.8px;font-size:23px;font-weight:bold;color:#fff;-webkit-text-stroke:0.7px #fff;letter-spacing:-0.25px;">ケースの開け方</div>
<div class="t" style="left:196px;top:59.3px;font-size:15px;">スライダー</div>
<div class="t" style="left:484px;top:176px;font-size:15px;letter-spacing:0.4px;">解錠ボタン</div>
<div class="t" style="left:449.5px;top:215px;font-size:15px;letter-spacing:-1px;">ダイアル</div>
<div class="t" style="left:157.2px;top:480.1px;font-size:14.5px;transform-origin:0 0;transform:scaleX(0.9943);">①ダイアルを解錠番号に合わせます。</div>
<div class="t" style="left:156.48px;top:501.3px;font-size:14.5px;transform-origin:0 0;transform:scaleX(1.0085);">※製品出荷時の解錠番号は</div>
<div class="t" style="left:338.9px;top:501.3px;font-size:14.5px;transform-origin:0 0;-webkit-text-stroke:0;color:#333;transform:scaleX(1.1118);">0-0-0</div>
<div class="t" style="left:379.41px;top:501.3px;font-size:14.5px;transform-origin:0 0;transform:scaleX(0.9878);">に設定されています。</div>
<div class="t" style="left:157.2px;top:522.5px;font-size:14.5px;transform-origin:0 0;transform:scaleX(0.9778);">②解錠ボタンを矢印方向に押すと、</div>
<div class="t" style="left:386.22px;top:522.5px;font-size:14.5px;transform-origin:0 0;transform:scaleX(0.9832);">スライダーが外れ</div>
<div class="t" style="left:157.54px;top:543.7px;font-size:14.5px;transform-origin:0 0;transform:scaleX(0.9574);">ファスナーの開閉ができるようになります。</div>
<div class="t" style="left:131.5px;top:594.8px;font-size:15px;transform-origin:0 0;transform:scaleX(1.0121);">錠前にあるカギ穴は、</div>
<div class="t" style="left:281.2px;top:594.8px;font-size:15px;transform-origin:0 0;transform:scaleX(1.0304);">空港検査員が解錠する際に使用するもの</div>
<div class="t" style="left:132.0px;top:612.6px;font-size:15px;transform-origin:0 0;transform:scaleX(0.86);">で、</div>
<div class="t" style="left:156.3px;top:612.6px;font-size:15px;transform-origin:0 0;transform:scaleX(1.0);">本製品には鍵は付属しておりません。</div>
</body></html>
